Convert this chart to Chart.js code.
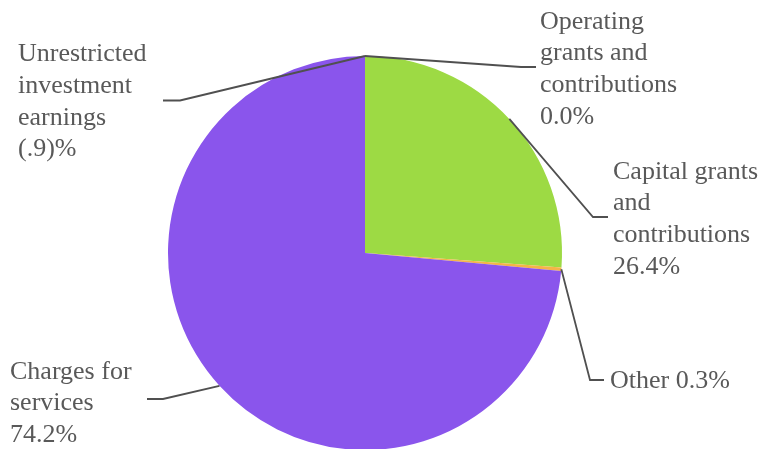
<!DOCTYPE html>
<html>
<head>
<meta charset="utf-8">
<script src="https://cdn.jsdelivr.net/npm/chart.js@4/dist/chart.umd.min.js"></script>
<style>
  html, body { margin: 0; padding: 0; background: #ffffff; overflow: hidden; }
  #c { display: block; }
</style>
</head>
<body>
<canvas id="c" width="762" height="449"></canvas>
<script>
// ---- data ----
const categories = [
  'Operating grants and contributions',
  'Capital grants and contributions',
  'Other',
  'Charges for services',
  'Unrestricted investment earnings'
];
const values = [0.0, 26.4, 0.3, 74.2, -0.9];
const percentLabels = ['0.0%', '26.4%', '0.3%', '74.2%', '(.9)%'];
const sliceColors = ['#5B9BD5', '#9DDA44', '#F4B448', '#8A55EC', '#A5A5A5'];

// ---- label layout (positions only) ----
const labelLayout = [
  { x: 540, baseline: 28.5, wrap: 150, elbow: [521, 67], end: [536, 67] },
  { x: 613, baseline: 178.5, wrap: 155, elbow: [593, 217], end: [608, 217] },
  { x: 610, baseline: 388, wrap: 170, elbow: [590, 380], end: [604, 380] },
  { x: 10, baseline: 378.5, wrap: 135, elbow: [163, 399], end: [147, 399] },
  { x: 18, baseline: 61, wrap: 140, elbow: [180, 100.5], end: [163, 100.5] }
];
const LINE_H = 31.8;
const LABEL_FONT = '26px "Liberation Serif"';
const TEXT_COLOR = '#595959';
const LINE_COLOR = '#505050';

function wrapText(ctx, text, maxW) {
  const words = text.split(' ');
  const lines = [];
  let cur = '';
  for (const w of words) {
    const t = cur ? cur + ' ' + w : w;
    if (cur && ctx.measureText(t).width > maxW) {
      lines.push(cur);
      cur = w;
    } else {
      cur = t;
    }
  }
  if (cur) lines.push(cur);
  return lines;
}

const leaderLabels = {
  id: 'leaderLabels',
  afterDatasetsDraw(chart) {
    const ctx = chart.ctx;
    const meta = chart.getDatasetMeta(0);
    meta.data.forEach((arc, i) => {
      const p = arc.getProps(['x', 'y', 'startAngle', 'endAngle', 'outerRadius'], true);
      const mid = (p.startAngle + p.endAngle) / 2;
      const sx = p.x + Math.cos(mid) * p.outerRadius;
      const sy = p.y + Math.sin(mid) * p.outerRadius;
      const L = labelLayout[i];
      ctx.save();
      ctx.beginPath();
      ctx.moveTo(sx, sy);
      ctx.lineTo(L.elbow[0], L.elbow[1]);
      ctx.lineTo(L.end[0], L.end[1]);
      ctx.strokeStyle = LINE_COLOR;
      ctx.lineWidth = 1.8;
      ctx.stroke();
      ctx.restore();

      ctx.save();
      ctx.font = LABEL_FONT;
      ctx.fillStyle = TEXT_COLOR;
      ctx.textAlign = 'left';
      ctx.textBaseline = 'alphabetic';
      const lines = wrapText(ctx, categories[i] + ' ' + percentLabels[i], L.wrap);
      lines.forEach((ln, k) => {
        ctx.fillText(ln, L.x, L.baseline + k * LINE_H);
      });
      ctx.restore();
    });
  }
};

new Chart(document.getElementById('c'), {
  type: 'pie',
  data: {
    labels: categories,
    datasets: [{
      data: values.map(v => Math.max(v, 0)),
      backgroundColor: sliceColors,
      borderWidth: 0
    }]
  },
  options: {
    responsive: false,
    animation: false,
    radius: 197,
    layout: { padding: { left: 0, right: 32, top: 57, bottom: 0 } },
    plugins: {
      legend: { display: false },
      tooltip: { enabled: false }
    }
  },
  plugins: [leaderLabels]
});
</script>
</body>
</html>
